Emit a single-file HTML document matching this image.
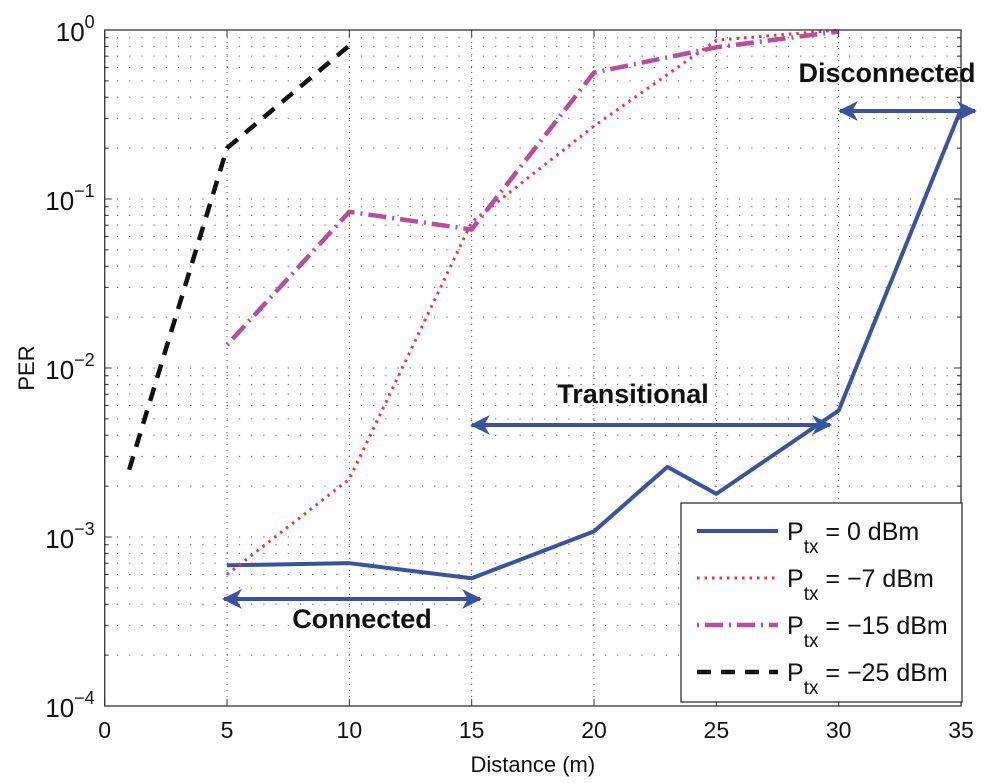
<!DOCTYPE html>
<html><head><meta charset="utf-8"><style>
html,body{margin:0;padding:0;background:#fff;}
svg{display:block;font-family:"Liberation Sans",Arial,sans-serif;}
</style></head><body>
<svg id="chart" width="1000" height="783" viewBox="0 0 1000 783" xmlns="http://www.w3.org/2000/svg">
<defs>
<marker id="ah" viewBox="0 0 10 10" refX="9" refY="5" markerWidth="5" markerHeight="5" orient="auto-start-reverse"><path d="M0,0 L10,5 L0,10 L3,5 z" fill="#3953a4"/></marker>
</defs>
<g id="grid"></g>
<g id="series"></g>
<g id="axes"></g>
<g id="annot"></g>
<g id="legend"></g>
</svg>
<script>
const xTicks=[0,5,10,15,20,25,30,35];
const yExps=[0,-1,-2,-3,-4];
const x0dBm=[5,10,15,20,23,25,30,35];
const y0dBm=[6.8e-4,7e-4,5.7e-4,1.08e-3,2.6e-3,1.8e-3,5.6e-3,0.34];
const x7dBm=[5,10,15,20,25,30];
const y7dBm=[6e-4,2.2e-3,0.073,0.27,0.87,1.0];
const x15dBm=[5,10,15,20,25,30];
const y15dBm=[0.0137,0.084,0.066,0.56,0.79,0.98];
const x25dBm=[1,5,10];
const y25dBm=[0.0025,0.2,0.81];
const legendLabels=["0 dBm","\u22127 dBm","\u221215 dBm","\u221225 dBm"];

const L=104.7,R=961,T=30,B=706;
const sx=v=>L+(v-0)/35*(R-L);
const sy=v=>T+(-Math.log10(v))/4*(B-T);
const NS="http://www.w3.org/2000/svg";
function mk(tag,attrs,parent,text){const e=document.createElementNS(NS,tag);for(const k in attrs)e.setAttribute(k,attrs[k]);if(text!==undefined)e.textContent=text;parent.appendChild(e);return e;}
const grid=document.getElementById('grid'),axes=document.getElementById('axes'),series=document.getElementById('series'),annot=document.getElementById('annot'),legend=document.getElementById('legend');
mk('rect',{x:L,y:T,width:R-L,height:B-T,fill:'#fff'},grid);
xTicks.forEach(t=>{if(t>0&&t<35){const g=mk('line',{x1:sx(t),x2:sx(t),y1:T,y2:B,stroke:'#555','stroke-width':1,'stroke-dasharray':'1 5'},grid);}});
for(let e=-4;e<0;e++){for(let m=1;m<=9;m++){const v=m*Math.pow(10,e);if(m===1&&e===-4)continue;const g=mk('line',{x1:L,x2:R,y1:sy(v),y2:sy(v),stroke:'#555','stroke-width':1,'stroke-dasharray':'1.2 11'},grid);}}
const box=mk('rect',{x:L,y:T,width:R-L,height:B-T,fill:'none',stroke:'#333','stroke-width':1.3},axes);

xTicks.forEach(t=>{
 mk('line',{x1:sx(t),x2:sx(t),y1:B,y2:B-7,stroke:'#333'},axes);
 mk('line',{x1:sx(t),x2:sx(t),y1:T,y2:T+7,stroke:'#333'},axes);
 const tx=mk('text',{x:sx(t),y:B+32,'font-size':23,'text-anchor':'middle',fill:'#111'},axes,String(t));
 
});
yExps.forEach(e=>{
 const y=sy(Math.pow(10,e));
 mk('line',{x1:L,x2:L+7,y1:y,y2:y,stroke:'#333'},axes);
 mk('line',{x1:R,x2:R-7,y1:y,y2:y,stroke:'#333'},axes);
 const tx=mk('text',{x:L-10,y:y+11,'font-size':26,'text-anchor':'end',fill:'#111'},axes);
 
 mk('tspan',{},tx,'10');mk('tspan',{dy:-13,'font-size':18},tx,e===0?'0':'\u2212'+(-e));
});
for(let e=-4;e<0;e++)for(let m=2;m<=9;m++){const y=sy(m*Math.pow(10,e));mk('line',{x1:L,x2:L+4,y1:y,y2:y,stroke:'#333'},axes);mk('line',{x1:R,x2:R-4,y1:y,y2:y,stroke:'#333'},axes);}
let xl=mk('text',{x:(L+R)/2,y:772,'font-size':22,'text-anchor':'middle',fill:'#111'},axes,'Distance (m)');

let yl=mk('text',{x:34,y:(T+B)/2,'font-size':22,'text-anchor':'middle',fill:'#111',transform:`rotate(-90 34 ${(T+B)/2})`},axes,'PER');

const styles=[
 {c:'#3953a4',w:4,d:'none',xs:x0dBm,ys:y0dBm,n:'series-0dbm'},
 {c:'#f0303a',w:3,d:'2.5 5',xs:x7dBm,ys:y7dBm,n:'series-minus7dbm'},
 {c:'#b94c9f',w:4.5,d:'2 6 18 6',xs:x15dBm,ys:y15dBm,n:'series-minus15dbm'},
 {c:'#111',w:4.5,d:'14 10',xs:x25dBm,ys:y25dBm,n:'series-minus25dbm'}];
styles.forEach(s=>{
 const pts=s.xs.map((x,i)=>sx(x)+','+sy(s.ys[i])).join(' ');
 const p=mk('polyline',{points:pts,fill:'none',stroke:s.c,'stroke-width':s.w,'stroke-dasharray':s.d,'stroke-linejoin':'round'},series);
 
});
function arrow(x1,x2,y,name,label,lx,ly){
 const l=mk('line',{x1:x1,x2:x2,y1:y,y2:y,stroke:'#3953a4','stroke-width':4,'marker-start':'url(#ah)','marker-end':'url(#ah)'},annot);
 
 const t=mk('text',{x:lx,y:ly,'font-size':27,'font-weight':'bold','text-anchor':'middle',fill:'#111'},annot,label);
 
}
arrow(224,480,599,'connected','Connected',362,628);
arrow(472,830,425,'transitional','Transitional',633,403);
arrow(840,975,111,'disconnected','Disconnected',887,82);
const lb=mk('rect',{x:681,y:503,width:281,height:199,fill:'#fff',stroke:'#333','stroke-width':1.3},legend);

styles.forEach((s,i)=>{
 const y=531+i*47;
 const g=mk('g',{},legend);
 
 mk('line',{x1:697,x2:778,y1:y,y2:y,stroke:s.c,'stroke-width':s.w,'stroke-dasharray':s.d},g);
 const t=mk('text',{x:787,y:y+9,'font-size':25,fill:'#111'},g);
 mk('tspan',{},t,'P');mk('tspan',{dy:13,'font-size':19},t,'tx');mk('tspan',{dy:-13},t,' = '+legendLabels[i]);
});
</script>
</body></html>
